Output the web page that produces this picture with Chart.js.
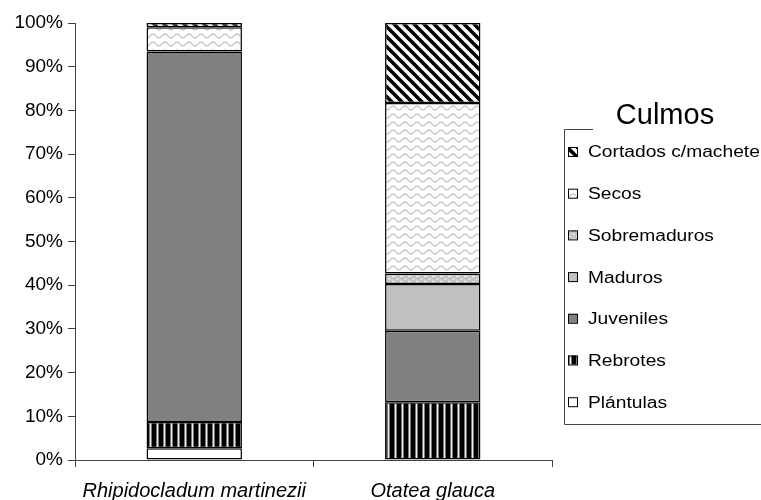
<!DOCTYPE html>
<html>
<head>
    <style>
        body { margin: 0; background: #fff; }
        canvas { display: block; }
    </style>
    <script src="https://cdn.jsdelivr.net/npm/chart.js"></script>
</head>
<body>
    <canvas id="myChart" width="761" height="500"></canvas>
    <script>
        // data (percent of culms)
        var categories = ['Rhipidocladum martinezii', 'Otatea glauca'];
        var plantulas = [2.7, 0];
        var rebrotes = [6.0, 13.2];
        var juveniles = [84.8, 16.4];
        var maduros = [0, 10.7];
        var sobremaduros = [0, 2.4];
        var secos = [5.5, 39.0];
        var cortados = [1.0, 18.3];
        var yTicks = [0, 10, 20, 30, 40, 50, 60, 70, 80, 90, 100];
        var legendTitle = 'Culmos';

        function makePattern(w, h, draw) {
            var c = document.createElement('canvas');
            c.width = w; c.height = h;
            var g = c.getContext('2d');
            draw(g, w, h);
            return document.getElementById('myChart').getContext('2d').createPattern(c, 'repeat');
        }

        var rebrotesFill = makePattern(7, 7, function(g) {
            g.fillStyle = '#000'; g.fillRect(0, 0, 7, 7);
            g.fillStyle = '#777'; g.fillRect(2, 0, 1, 7); g.fillRect(4, 0, 1, 7);
            g.fillStyle = '#eee'; g.fillRect(3, 0, 1, 7);
        });
        var cortadosFill = makePattern(10, 10, function(g) {
            g.fillStyle = '#fff'; g.fillRect(0, 0, 10, 10);
            g.strokeStyle = '#000'; g.lineWidth = 3.6;
            [-10, 0, 10].forEach(function(c) {
                g.beginPath(); g.moveTo(-5, -5 + c); g.lineTo(15, 15 + c); g.stroke();
            });
        });
        var secosFill = makePattern(12, 8, function(g) {
            g.fillStyle = '#fff'; g.fillRect(0, 0, 12, 8);
            g.strokeStyle = '#c4c4c4'; g.lineWidth = 1.4;
            g.beginPath();
            for (var x = 0; x <= 12; x += 0.5) {
                var y = 4 + 2 * Math.sin(x / 12 * Math.PI * 2);
                if (x === 0) g.moveTo(x, y); else g.lineTo(x, y);
            }
            g.stroke();
        });
        var sobreFill = makePattern(8, 5, function(g) {
            g.fillStyle = '#c4c4c4'; g.fillRect(0, 0, 8, 5);
            g.fillStyle = '#f2f2f2';
            g.fillRect(0, 1, 3, 1); g.fillRect(4, 3.5, 3, 1);
        });

        var datasets = [
            { label: 'Plántulas', data: plantulas, backgroundColor: '#fff' },
            { label: 'Rebrotes', data: rebrotes, backgroundColor: rebrotesFill },
            { label: 'Juveniles', data: juveniles, backgroundColor: '#808080' },
            { label: 'Maduros', data: maduros, backgroundColor: '#c0c0c0' },
            { label: 'Sobremaduros', data: sobremaduros, backgroundColor: sobreFill },
            { label: 'Secos', data: secos, backgroundColor: secosFill },
            { label: 'Cortados c/machete', data: cortados, backgroundColor: cortadosFill }
        ];
        datasets.forEach(function(d) {
            d.borderColor = '#000';
            d.borderWidth = 1.5;
            d.borderSkipped = false;
            d.barPercentage = 0.4;
            d.categoryPercentage = 1;
        });

        // legend box drawn on the right, last series on top
        var boxLegend = {
            id: 'boxLegend',
            afterDraw: function(chart) {
                var ctx = chart.ctx;
                ctx.save();
                ctx.strokeStyle = '#444';
                ctx.lineWidth = 1;
                ctx.beginPath();
                ctx.moveTo(593, 129.5); ctx.lineTo(564.5, 129.5);
                ctx.lineTo(564.5, 424.5); ctx.lineTo(770, 424.5);
                ctx.stroke();

                ctx.fillStyle = '#000';
                ctx.textAlign = 'center';
                ctx.textBaseline = 'middle';
                ctx.font = '29px "Liberation Sans", Arial, sans-serif';
                ctx.fillText(legendTitle, 665, 116);

                var items = chart.data.datasets.slice().reverse();
                items.forEach(function(d, i) {
                    var y = 152 + i * 41.7;
                    ctx.fillStyle = d.backgroundColor;
                    ctx.fillRect(568, y - 5, 9, 9);
                    ctx.strokeStyle = '#000';
                    ctx.strokeRect(568.5, y - 4.5, 9, 9);
                    ctx.save();
                    ctx.translate(588, y);
                    ctx.scale(1.2, 1);
                    ctx.fillStyle = '#000';
                    ctx.textAlign = 'left';
                    ctx.font = '16px "Liberation Sans", Arial, sans-serif';
                    ctx.fillText(d.label, 0, 1);
                    ctx.restore();
                });
                ctx.restore();
            }
        };

        var ctx = document.getElementById('myChart').getContext('2d');
        var myChart = new Chart(ctx, {
            type: 'bar',
            data: { labels: categories, datasets: datasets },
            options: {
                responsive: false,
                animation: false,
                layout: { padding: { left: 0, right: 209, top: 23, bottom: 0 } },
                plugins: { legend: { display: false }, tooltip: { enabled: false } },
                scales: {
                    x: {
                        stacked: true,
                        grid: { drawOnChartArea: false, offset: true, tickLength: 7, color: '#444' },
                        border: { color: '#444', width: 1 },
                        ticks: {
                            color: '#000',
                            padding: 12,
                            maxRotation: 0,
                            font: { family: '"Liberation Sans", Arial, sans-serif', size: 20, style: 'italic' }
                        },
                        afterFit: function(scale) { scale.height = 40; }
                    },
                    y: {
                        stacked: true,
                        min: 0,
                        max: 100,
                        afterBuildTicks: function(scale) {
                            scale.ticks = yTicks.map(function(v) { return { value: v }; });
                        },
                        grid: { drawOnChartArea: false, tickLength: 7, color: '#444' },
                        border: { color: '#444', width: 1 },
                        ticks: {
                            color: '#000',
                            padding: 5,
                            font: { family: '"Liberation Sans", Arial, sans-serif', size: 19 },
                            callback: function(v) { return v + '%'; }
                        },
                        afterFit: function(scale) { scale.width = 75; }
                    }
                }
            },
            plugins: [boxLegend]
        });
    </script>
</body>
</html>
